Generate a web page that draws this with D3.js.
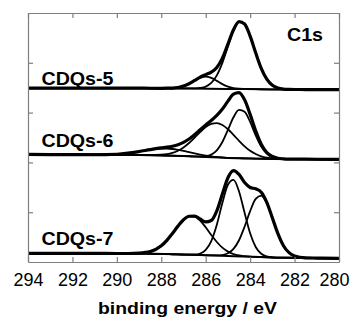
<!DOCTYPE html>
<html>
  <head>
    <meta charset="UTF-8">
    <style>
      body {
        margin: 0;
        background: white;
        font-family: "Liberation Sans", Arial, sans-serif;
      }
    </style>
    <script type="text/javascript" src="https://cdn.jsdelivr.net/npm/d3@7"></script>
  </head>

  <body>
    <svg id="Chart"></svg>

    <script type="text/javascript">
      // binding energy grid (eV) shared by every curve
      let energy = [294, 293, 292, 291, 290, 289.5, 289, 288.5, 288, 287.75, 287.5, 287.25, 287, 286.75, 286.5, 286.25,
        286, 285.75, 285.5, 285.25, 285, 284.75, 284.5, 284.25, 284, 283.75, 283.5, 283.25, 283, 282.75, 282.5, 282.25,
        282, 281.5, 281, 280];

      // background (absolute intensity) at a few energies
      let bgEnergy = [294, 289, 287, 285, 283, 280];
      let bg5 = [174.5, 174.5, 174.3, 173.8, 173.3, 173];
      let bg6 = [108, 107.5, 106.5, 104.5, 103.5, 103];
      let bg7 = [8.7, 8.5, 7.5, 6, 4.5, 3.7];

      // CDQs-5 (intensity above background)
      let sum5 = [0, 0, 0, 0, 0, 0, 0, 0, 0, 0.1, 0.3, 0.9, 2.3, 4.7, 8.1, 11.5, 14.1, 16.6, 21.4, 30.8, 44.9, 59.4, 67.7,
        65.4, 53.2, 36.5, 21.0, 10.2, 4.1, 1.4, 0.4, 0.1, 0, 0, 0, 0];
      let peak5a = [0, 0, 0, 0, 0, 0, 0, 0, 0, 0, 0, 0, 0, 0, 0.2, 0.7, 2.1, 5.8, 13.5, 26.1, 42.6, 58.5, 67.4, 65.3,
        53.2, 36.5, 21.0, 10.2, 4.1, 1.4, 0.4, 0.1, 0, 0, 0, 0];
      let peak5b = [0, 0, 0, 0, 0, 0, 0, 0, 0, 0.1, 0.3, 0.9, 2.3, 4.7, 7.9, 10.8, 12, 10.8, 7.9, 4.7, 2.3, 0.9, 0.3, 0.1,
        0, 0, 0, 0, 0, 0, 0, 0, 0, 0, 0, 0];

      // CDQs-6
      let sum6 = [0, 0, 0, 0, 0.6, 1.7, 3.4, 5.6, 7.6, 8.4, 9.5, 11.1, 13.6, 17.2, 21.8, 27.0, 32.1, 36.9, 42.1, 48.8,
        57.0, 64.2, 65.9, 58.7, 44.2, 27.8, 14.5, 6.3, 2.4, 0.7, 0.2, 0, 0, 0, 0, 0];
      let peak6a = [0, 0, 0, 0, 0, 0, 0, 0, 0, 0, 0, 0, 0, 0, 0, 0.2, 0.8, 2.6, 7.1, 15.7, 28.1, 40.9, 48.5, 46.7, 36.6,
        23.3, 12.1, 5.1, 1.8, 0.5, 0.1, 0, 0, 0, 0, 0];
      let peak6b = [0, 0, 0, 0, 0, 0, 0, 0.1, 0.7, 1.4, 2.8, 5.1, 8.5, 13.2, 18.8, 24.7, 29.9, 33.4, 34.5, 32.8, 28.8,
        23.3, 17.4, 12.0, 7.6, 4.5, 2.4, 1.2, 0.6, 0.2, 0.1, 0, 0, 0, 0, 0];
      let peak6c = [0, 0, 0, 0, 0.6, 1.7, 3.4, 5.5, 6.9, 7.0, 6.7, 6.0, 5.1, 4.0, 3.0, 2.1, 1.4, 0.9, 0.5, 0.3, 0.1,
        0, 0, 0, 0, 0, 0, 0, 0, 0, 0, 0, 0, 0, 0, 0];

      // CDQs-7
      let sum7 = [0, 0, 0, 0, 0, 0, 0.4, 2.2, 8.3, 13.9, 20.9, 28.4, 34.9, 38.6, 38.9, 36.2, 33.5, 35.1, 45.0, 62.0,
        78.6, 86.0, 82.3, 74.4, 69.6, 68.4, 65.2, 55.2, 39.8, 24.0, 12.0, 5.1, 1.8, 0.1, 0, 0];
      let peak7a = [0, 0, 0, 0, 0, 0, 0, 0, 0, 0, 0, 0, 0, 0.1, 0.4, 1.6, 5.4, 14.5, 31.1, 53.0, 71.5, 76.6, 65.2, 44.0,
        23.6, 10.0, 3.4, 0.9, 0.2, 0, 0, 0, 0, 0, 0, 0];
      let peak7b = [0, 0, 0, 0, 0, 0, 0, 0, 0, 0, 0, 0, 0, 0, 0, 0, 0, 0, 0.2, 0.8, 2.7, 7.3, 16.2, 30.0, 45.9, 58.4,
        61.8, 54.3, 39.6, 24.0, 12.0, 5.1, 1.8, 0.1, 0, 0];
      let peak7c = [0, 0, 0, 0, 0, 0, 0.4, 2.2, 8.3, 13.9, 20.9, 28.4, 34.9, 38.5, 38.5, 34.6, 28.1, 20.6, 13.7, 8.2,
        4.4, 2.1, 0.9, 0.4, 0.1, 0, 0, 0, 0, 0, 0, 0, 0, 0, 0, 0];

      let xTicks = [294, 292, 290, 288, 286, 284, 282, 280];
      let yTicks = [50, 100, 150, 200];
      let sampleNames = ['CDQs-5', 'CDQs-6', 'CDQs-7'];

      let spectra = [
        {name: sampleNames[0], bg: bg5, sum: sum5, peaks: [peak5a, peak5b], labelY: 85},
        {name: sampleNames[1], bg: bg6, sum: sum6, peaks: [peak6a, peak6b, peak6c], labelY: 147},
        {name: sampleNames[2], bg: bg7, sum: sum7, peaks: [peak7a, peak7b, peak7c], labelY: 245}
      ];

      let width = 353;
      let height = 324;
      let margin = {top: 13, bottom: 62, left: 28, right: 14};
      let axisColor = '#7f7f7f';

      let svg = d3.select('#Chart')
        .attr('width', width)
        .attr('height', height);

      let xScale = d3.scaleLinear()
        .domain([294, 280])
        .range([margin.left, width - margin.right]);

      let yScale = d3.scaleLinear()
        .domain([0, 250])
        .range([height - margin.bottom, margin.top]);

      function drawSpectrum(s) {
        let bgAt = d3.scaleLinear().domain(bgEnergy).range(s.bg);
        let line = d3.line()
          .x(d => xScale(d[0]))
          .y(d => yScale(bgAt(d[0]) + d[1]))
          .curve(d3.curveMonotoneX);

        svg.append('path')
          .attr('d', line(bgEnergy.map(e => [e, 0])))
          .attr('fill', 'none')
          .attr('stroke', 'black')
          .attr('stroke-width', 2);

        s.peaks.forEach(p => {
          svg.append('path')
            .attr('d', line(energy.map((e, i) => [e, p[i]])))
            .attr('fill', 'none')
            .attr('stroke', 'black')
            .attr('stroke-width', 1.8);
        });

        svg.append('path')
          .attr('d', line(energy.map((e, i) => [e, s.sum[i]])))
          .attr('fill', 'none')
          .attr('stroke', 'black')
          .attr('stroke-width', 3.2)
          .attr('stroke-linejoin', 'round');

        svg.append('text')
          .attr('x', 41.5)
          .attr('y', s.labelY)
          .attr('font-size', 17.5)
          .attr('font-weight', 'bold')
          .attr('textLength', 72)
          .attr('lengthAdjust', 'spacingAndGlyphs')
          .text(s.name);
      }

      spectra.forEach(drawSpectrum);

      // frame axes, ticks pointing inward
      let plotBottom = height - margin.bottom;
      let plotRight = width - margin.right;

      let axisB = svg.append('g')
        .attr('transform', `translate(0, ${plotBottom})`)
        .call(d3.axisBottom(xScale).tickValues(xTicks).tickSizeInner(-5).tickSizeOuter(0).tickPadding(11)
          .tickFormat(d3.format('d')));
      axisB.selectAll('text')
        .attr('font-size', 19)
        .attr('font-family', '"Liberation Sans", Arial, sans-serif')
        .attr('fill', 'black')
        .attr('dx', d => d === 280 ? -5 : 0)
        .attr('textLength', 30)
        .attr('lengthAdjust', 'spacingAndGlyphs');

      svg.append('g')
        .attr('transform', `translate(0, ${margin.top})`)
        .call(d3.axisTop(xScale).tickValues(xTicks).tickSizeInner(-5).tickSizeOuter(0).tickFormat(''));

      svg.append('g')
        .attr('transform', `translate(${margin.left}, 0)`)
        .call(d3.axisLeft(yScale).tickValues(yTicks).tickSizeInner(-5).tickSizeOuter(0).tickFormat(''));

      svg.append('g')
        .attr('transform', `translate(${plotRight}, 0)`)
        .call(d3.axisRight(yScale).tickValues(yTicks).tickSizeInner(-5).tickSizeOuter(0).tickFormat(''));

      svg.selectAll('.domain, .tick line')
        .attr('stroke', axisColor)
        .attr('stroke-width', 1.2);

      svg.append('text')
        .attr('x', 287)
        .attr('y', 41)
        .attr('font-size', 17.5)
        .attr('font-weight', 'bold')
        .attr('textLength', 36)
        .attr('lengthAdjust', 'spacingAndGlyphs')
        .text('C1s');

      svg.append('text')
        .attr('x', 98)
        .attr('y', 314)
        .attr('font-size', 17)
        .attr('font-weight', 'bold')
        .attr('textLength', 179)
        .attr('lengthAdjust', 'spacingAndGlyphs')
        .text('binding energy / eV');
    </script>
  </body>
</html>
